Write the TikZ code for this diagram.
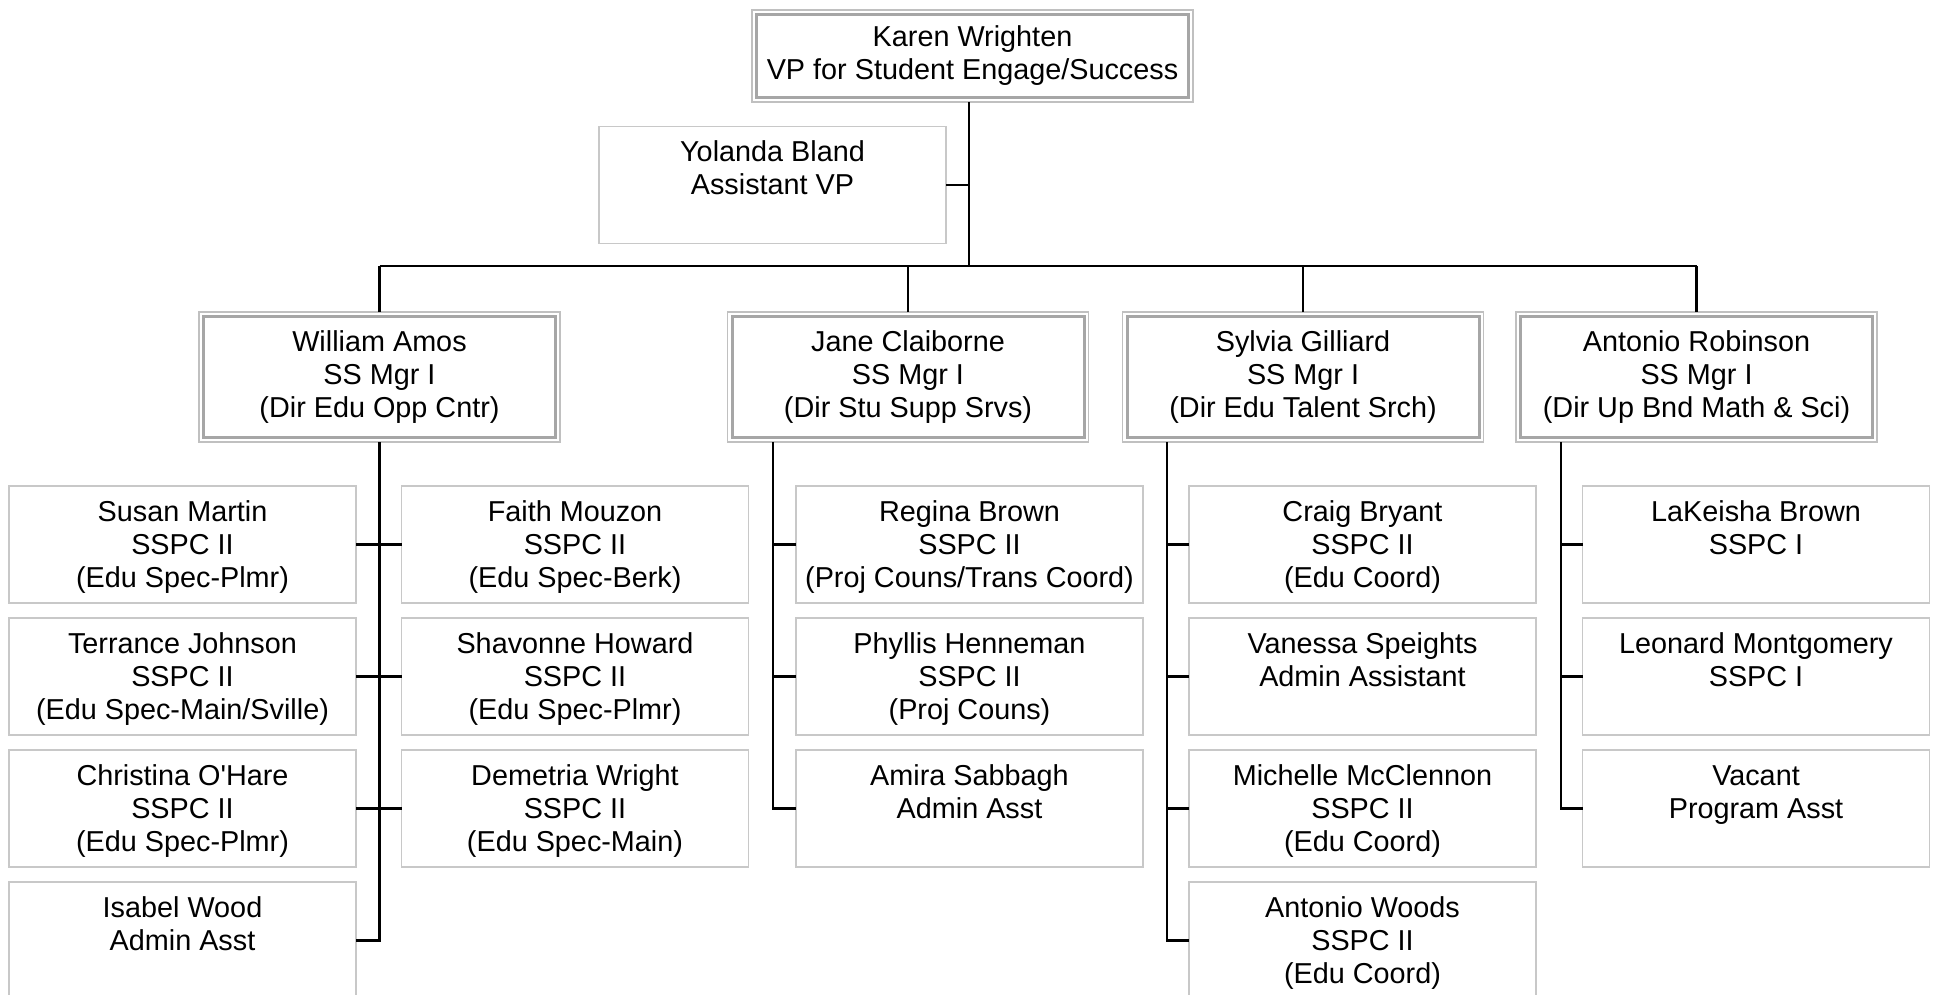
\documentclass[tikz,border=0pt]{standalone}
\usepackage{fontspec}
\setmainfont{Liberation Sans}
\definecolor{innergray}{HTML}{A6A6A6}
\definecolor{outergray}{HTML}{C0C0C0}
\definecolor{boxgray}{HTML}{C8C8C8}
\newcommand{\stafftext}[1]{\parbox[c][117pt][t]{347pt}{\centering\vspace*{12pt}\strut #1}}
\tikzset{
  txt/.style={font=\fontsize{28.8}{33}\selectfont},
  mgr/.style={draw=innergray, line width=3pt, fill=white, minimum width=352pt, minimum height=121pt,
    inner sep=0pt, outer sep=0pt, align=center, txt},
  staff/.style={draw=boxgray, line width=1.2pt, fill=white, inner sep=0pt, outer sep=0pt, txt},
  outerbox/.style={draw=outergray, line width=1.5pt},
  conn/.style={draw=black, line width=2.2pt},
}
\begin{document}
\begin{tikzpicture}[x=1pt,y=1pt]
\useasboundingbox[fill=white] (0,0) rectangle (1935,-995);

% top
\node[mgr, minimum width=432pt, minimum height=83pt] (karen) at (972.5,-56) {Karen Wrighten\\VP for Student Engage/Success};
\node[staff] (yolanda) at (772.5,-185) {\stafftext{Yolanda Bland\\Assistant VP}};

% managers
\node[mgr] (amos) at (379.5,-377) {William Amos\\SS Mgr I\\(Dir Edu Opp Cntr)};
\node[mgr] (claiborne) at (908,-377) {Jane Claiborne\\SS Mgr I\\(Dir Stu Supp Srvs)};
\node[mgr] (gilliard) at (1303,-377) {Sylvia Gilliard\\SS Mgr I\\(Dir Edu Talent Srch)};
\node[mgr] (robinson) at (1696.5,-377) {Antonio Robinson\\SS Mgr I\\(Dir Up Bnd Math \& Sci)};

% William Amos staff
\node[staff] (susan) at (182.5,-544.5) {\stafftext{Susan Martin\\SSPC II\\(Edu Spec-Plmr)}};
\node[staff] (terrance) at (182.5,-676.5) {\stafftext{Terrance Johnson\\SSPC II\\(Edu Spec-Main/Sville)}};
\node[staff] (christina) at (182.5,-808.5) {\stafftext{Christina O\textquotesingle Hare\\SSPC II\\(Edu Spec-Plmr)}};
\node[staff] (isabel) at (182.5,-940.5) {\stafftext{Isabel Wood\\Admin Asst}};
\node[staff] (faith) at (575,-544.5) {\stafftext{Faith Mouzon\\SSPC II\\(Edu Spec-Berk)}};
\node[staff] (shavonne) at (575,-676.5) {\stafftext{Shavonne Howard\\SSPC II\\(Edu Spec-Plmr)}};
\node[staff] (demetria) at (575,-808.5) {\stafftext{Demetria Wright\\SSPC II\\(Edu Spec-Main)}};

% Jane Claiborne staff
\node[staff] (regina) at (969.5,-544.5) {\stafftext{Regina Brown\\SSPC II\\(Proj Couns/Trans Coord)}};
\node[staff] (phyllis) at (969.5,-676.5) {\stafftext{Phyllis Henneman\\SSPC II\\(Proj Couns)}};
\node[staff] (amira) at (969.5,-808.5) {\stafftext{Amira Sabbagh\\Admin Asst}};

% Sylvia Gilliard staff
\node[staff] (craig) at (1362.5,-544.5) {\stafftext{Craig Bryant\\SSPC II\\(Edu Coord)}};
\node[staff] (vanessa) at (1362.5,-676.5) {\stafftext{Vanessa Speights\\Admin Assistant}};
\node[staff] (michelle) at (1362.5,-808.5) {\stafftext{Michelle McClennon\\SSPC II\\(Edu Coord)}};
\node[staff] (woods) at (1362.5,-940.5) {\stafftext{Antonio Woods\\SSPC II\\(Edu Coord)}};

% Antonio Robinson staff
\node[staff] (lakeisha) at (1756,-544.5) {\stafftext{LaKeisha Brown\\SSPC I}};
\node[staff] (leonard) at (1756,-676.5) {\stafftext{Leonard Montgomery\\SSPC I}};
\node[staff] (vacant) at (1756,-808.5) {\stafftext{Vacant\\Program Asst}};

% outer borders of double boxes
\foreach \n in {karen,amos,claiborne,gilliard,robinson}{
  \draw[outerbox] ([shift={(-4.5pt,4.5pt)}]\n.north west) rectangle ([shift={(4.5pt,-4.5pt)}]\n.south east);
  \path (\n.north) ++(0,4.5) coordinate (\n-T);
  \path (\n.south) ++(0,-4.5) coordinate (\n-B);
}

% top connectors
\coordinate (kt) at (969,-266);
\draw[conn] (karen-B -| kt) -- (kt);
\draw[conn] (yolanda.east) -- (yolanda.east -| kt);
\draw[conn] (amos-T |- kt) -- (robinson-T |- kt);
\foreach \n in {amos,claiborne,gilliard,robinson}{
  \draw[conn] (\n-T) -- (\n-T |- kt);
}

% William Amos
\draw[conn] (amos-B) -- (amos-B |- isabel.east) -- (isabel.east);
\draw[conn] (susan.east) -- (faith.west);
\draw[conn] (terrance.east) -- (shavonne.west);
\draw[conn] (christina.east) -- (demetria.west);

% Jane Claiborne
\coordinate (jt) at (773,-442);
\draw[conn] (jt) -- (jt |- amira.west) -- (amira.west);
\draw[conn] (jt |- regina.west) -- (regina.west);
\draw[conn] (jt |- phyllis.west) -- (phyllis.west);

% Sylvia Gilliard
\coordinate (st) at (1167,-442);
\draw[conn] (st) -- (st |- woods.west) -- (woods.west);
\draw[conn] (st |- craig.west) -- (craig.west);
\draw[conn] (st |- vanessa.west) -- (vanessa.west);
\draw[conn] (st |- michelle.west) -- (michelle.west);

% Antonio Robinson
\coordinate (rt) at (1561,-442);
\draw[conn] (rt) -- (rt |- vacant.west) -- (vacant.west);
\draw[conn] (rt |- lakeisha.west) -- (lakeisha.west);
\draw[conn] (rt |- leonard.west) -- (leonard.west);
\end{tikzpicture}
\end{document}
